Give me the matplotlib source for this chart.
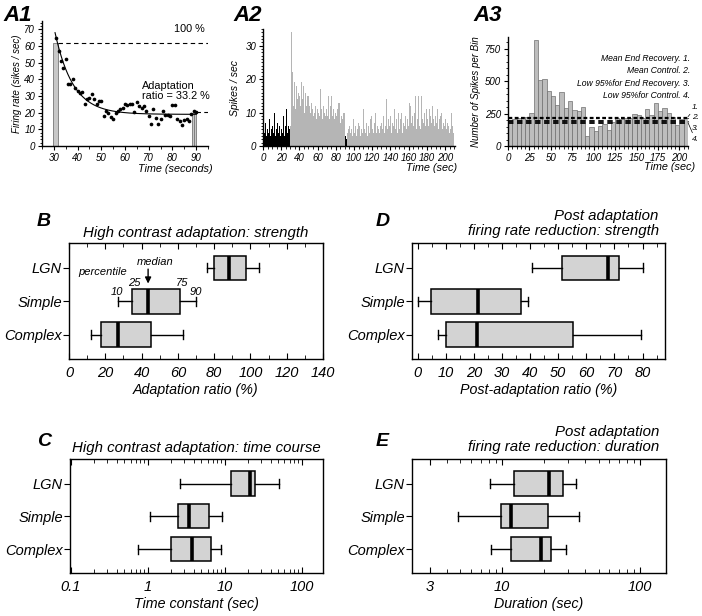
import numpy as np
import matplotlib
matplotlib.use('Agg')
import matplotlib.pyplot as plt
from matplotlib.ticker import MultipleLocator, LogLocator, NullFormatter

plt.rcParams['font.family'] = ['Liberation Sans', 'DejaVu Sans']
plt.rcParams['font.style'] = 'italic'
plt.rcParams['axes.linewidth'] = 1.0

# ---------------- data ----------------
# A1: firing rate during adaptation (1 point per second)
a1_t = np.arange(31, 91)
a1_rate = [65, 57, 51, 47, 52, 37, 37.5, 40, 35, 33,
           32, 32.5, 25, 28, 29, 31.5, 28, 25, 27, 27,
           18, 21, 20, 17.5, 16.5, 20, 21, 22, 23, 25,
           24.5, 25.5, 25, 20.5, 26.5, 24, 23, 24, 21, 18,
           13.5, 22.5, 17, 13.5, 16.5, 21, 18.5, 18.5, 18, 24.5,
           24.5, 16.5, 15, 12.5, 15.5, 16, 15, 19, 21, 20.5]
a1_bar_t = [29.8, 88.4, 89.2]
a1_bar_w = [2.0, 0.8, 0.8]
a1_bar_h = [62, 20, 21]
fit_t0, fit_amp, fit_tau, fit_base = 30.5, 49.0, 7.6, 19.0
a1_full = 62
a1_end = 20.5

# A2: spike rate per 1-s bin, 0-210 s
a2_rate = [8, 4, 7, 3, 5, 6, 4, 8, 3, 5,
           6, 4, 10, 3, 5, 7, 12, 4, 6, 3,
           5, 4, 9, 3, 6, 11, 4, 11, 6, 5,
           6, 34, 22, 12, 19, 11, 18, 14, 10, 16,
           15, 12, 19, 14, 18, 10, 16, 12, 15, 11,
           15, 12, 10, 13, 11, 9, 10, 12, 8, 11,
           10, 12, 9, 17, 11, 8, 12, 10, 9, 11,
           9, 15, 10, 8, 12, 15, 9, 11, 8, 10,
           9, 11, 13, 8, 13, 7, 9, 8, 10, 10,
           3, 2, 4, 5, 3, 6, 4, 5, 3, 8,
           4, 6, 3, 5, 7, 4, 6, 3, 5, 4,
           11, 5, 4, 7, 3, 6, 5, 4, 8, 9,
           5, 4, 7, 10, 4, 6, 5, 11, 4, 6,
           7, 5, 9, 4, 6, 14, 5, 8, 4, 6,
           9, 4, 7, 6, 11, 5, 8, 4, 10, 6,
           5, 8, 10, 4, 7, 6, 9, 5, 8, 6,
           13, 5, 12, 7, 9, 6, 10, 15, 5, 8,
           15, 6, 9, 5, 15, 8, 7, 10, 6, 11,
           8, 6, 11, 5, 9, 7, 12, 8, 6, 9,
           7, 11, 5, 8, 6, 9, 10, 5, 7, 6,
           8, 5, 7, 6, 4, 8, 5, 10, 6, 4]
a2_black = [(0, 30), (90, 92)]

# A3: spikes per 5-s bin
a3_counts = [196, 206, 212, 227, 227, 253, 815, 510, 520, 421,
             389, 319, 418, 290, 347, 278, 270, 298, 80, 145,
             118, 155, 167, 125, 185, 218, 208, 213, 218, 244,
             239, 218, 285, 239, 329, 270, 290, 257, 226, 165,
             206, 213]
a3_levels = [226, 212, 190, 180]
a3_names = ['Mean End Recovery. 1.', 'Mean Control. 2.',
            'Low 95%for End Recovery. 3.', 'Low 95%for Control. 4.']

# B-E: box plot summaries (10, 25, 50, 75, 90 percentiles)
cells = ['LGN', 'Simple', 'Complex']
b_stats = [[76, 80, 88, 97.4, 104.7], [27, 34.7, 43.7, 61.4, 69.8], [12, 17.6, 26.8, 45.4, 62.8]]
c_stats = [[2.67, 12.1, 21.2, 24.9, 51], [1.07, 2.51, 3.46, 6.25, 9.3], [0.76, 2.04, 3.79, 6.63, 9.05]]
d_stats = [[40.6, 51.5, 67.8, 71.8, 80.2], [0, 4.9, 21.4, 36.9, 39.4], [7.4, 10.2, 21.1, 55.3, 79.4]]
e_stats = [[8.24, 12.2, 22.0, 27.5, 34.3], [4.78, 9.78, 11.7, 21.7, 36.2], [8.37, 11.7, 19.2, 22.6, 29.2]]

W, H = 702, 616
fig = plt.figure(figsize=(W / 100, H / 100), dpi=100)


def px_axes(l, t, r, b):
    return fig.add_axes([l / W, 1 - b / H, (r - l) / W, (b - t) / H])


def small_axes(ax):
    for s in ['top', 'right']:
        ax.spines[s].set_visible(False)
    ax.tick_params(which='major', direction='out', length=3, labelsize=7, pad=2)
    ax.tick_params(which='minor', direction='out', length=1.8)


# ---------------- A1 ----------------
ax = px_axes(42, 21, 208, 146)
small_axes(ax)
ax.bar(a1_bar_t, a1_bar_h, width=a1_bar_w, align='edge', color='#c8c8c8', edgecolor='#777777', lw=0.6)
ax.scatter(a1_t, a1_rate, s=7, color='black', zorder=3, lw=0)
tt = np.linspace(fit_t0, 90, 200)
ax.plot(tt, fit_base + fit_amp * np.exp(-(tt - fit_t0) / fit_tau), color='black', lw=0.8)
ax.plot([31.8, 95], [a1_full, a1_full], ls=(0, (4, 3)), color='black', lw=0.8)
ax.plot([90, 95], [a1_end, a1_end], ls=(0, (4, 3)), color='black', lw=0.8)
ax.set_xlim(25, 95)
ax.set_ylim(0, 75)
ax.xaxis.set_major_locator(MultipleLocator(10))
ax.xaxis.set_minor_locator(MultipleLocator(5))
ax.yaxis.set_major_locator(MultipleLocator(10))
ax.yaxis.set_minor_locator(MultipleLocator(2))
ax.set_ylabel('Firing rate (sikes / sec)', fontsize=7, labelpad=2)
ax.text(1.03, -0.18, 'Time (seconds)', transform=ax.transAxes, ha='right', va='center', fontsize=7.8)
ax.text(80.5, 70, '100 %', fontsize=7.8, va='center', style='normal')
ax.text(67, 33, 'Adaptation\nratio = 33.2 %', fontsize=7.8, va='center', style='normal', linespacing=1.1)

# ---------------- A2 ----------------
ax = px_axes(263, 29, 455, 146)
small_axes(ax)
edges = np.arange(len(a2_rate))
cols = ['black' if any(lo <= e < hi for lo, hi in a2_black) else '#b5b5b5' for e in edges]
ax.bar(edges, a2_rate, width=1.0, align='edge', color=cols, lw=0)
ax.set_xlim(0, 211)
ax.set_ylim(0, 35)
ax.xaxis.set_major_locator(MultipleLocator(20))
ax.xaxis.set_minor_locator(MultipleLocator(5))
ax.yaxis.set_major_locator(MultipleLocator(10))
ax.yaxis.set_minor_locator(MultipleLocator(1))
ax.set_ylabel('Spikes / sec', fontsize=7.5, labelpad=4)
ax.text(1.01, -0.19, 'Time (sec)', transform=ax.transAxes, ha='right', va='center', fontsize=7.8)

# ---------------- A3 ----------------
ax = px_axes(508, 37, 688, 146)
small_axes(ax)
x3 = np.arange(len(a3_counts)) * 5
ax.bar(x3, a3_counts, width=5, align='edge', color='#bdbdbd', edgecolor='#6f6f6f', lw=0.5)
for i, lev in enumerate(a3_levels):
    ax.axhline(lev, color='black', lw=0.9 if i < 2 else 1.3, ls=(0, (3, 2)))
ax.set_xlim(0, 210)
ax.set_ylim(0, 840)
ax.xaxis.set_major_locator(MultipleLocator(25))
ax.xaxis.set_minor_locator(MultipleLocator(5))
ax.yaxis.set_major_locator(MultipleLocator(250))
ax.yaxis.set_minor_locator(MultipleLocator(50))
ax.set_ylabel('Number of Spikes per Bin', fontsize=7, labelpad=3)
ax.text(1.04, -0.19, 'Time (sec)', transform=ax.transAxes, ha='right', va='center', fontsize=7.8)
for i, name in enumerate(a3_names):
    ax.text(1.01, 0.807 - i * 0.116, name, transform=ax.transAxes, ha='right', va='center', fontsize=6.2)
lab_y = [0.349, 0.257, 0.165, 0.064]
for i, lev in enumerate(a3_levels):
    ax.annotate('%d.' % (i + 1), xy=(210, lev), xycoords='data', xytext=(1.02, lab_y[i]),
                textcoords='axes fraction', fontsize=6, va='center', annotation_clip=False,
                arrowprops=dict(arrowstyle='-', lw=0.5, shrinkA=0, shrinkB=0))


# ---------------- B-E ----------------
def box_panel(ax, vals):
    stats = [dict(whislo=v[0], q1=v[1], med=v[2], q3=v[3], whishi=v[4], label=c)
             for v, c in zip(vals, cells)]
    ax.bxp(stats, positions=[3, 2, 1], widths=0.74, orientation='horizontal',
           patch_artist=True, showfliers=False, capwidths=0.27,
           boxprops=dict(facecolor='#d3d3d3', edgecolor='black', lw=1.1),
           medianprops=dict(color='black', lw=2.6, solid_capstyle='butt'),
           whiskerprops=dict(color='black', lw=1.0),
           capprops=dict(color='black', lw=1.0))
    ax.set_ylim(0.27, 3.75)
    ax.tick_params(axis='y', direction='out', length=4, labelsize=10.5, pad=1)
    ax.tick_params(axis='x', which='both', direction='in', top=True, bottom=True,
                   labelsize=10.5, pad=5)
    ax.tick_params(axis='x', which='major', length=4)
    ax.tick_params(axis='x', which='minor', length=3)


ax = px_axes(69, 243, 323, 359)
box_panel(ax, b_stats)
ax.set_xlim(0, 140)
ax.xaxis.set_major_locator(MultipleLocator(20))
ax.xaxis.set_minor_locator(MultipleLocator(10))
ax.set_xlabel('Adaptation ratio (%)', fontsize=10.3, labelpad=2)
ax.set_title('High contrast adaptation: strength', fontsize=10.8, pad=4)
ax.text(18.7, 2.88, 'percentile', fontsize=8, ha='center', va='center')
ax.text(47.4, 3.18, 'median', fontsize=8, ha='center', va='center')
ax.annotate('', xy=(43.6, 2.45), xytext=(43.6, 3.05),
            arrowprops=dict(arrowstyle='-|>', color='black', lw=1, mutation_scale=9))
for s, x, y in [('25', 35.8, 2.55), ('75', 62.3, 2.55), ('10', 26.5, 2.27), ('90', 70, 2.27)]:
    ax.text(x, y, s, fontsize=8, ha='center', va='center')

ax = px_axes(412, 243, 665, 359)
box_panel(ax, d_stats)
ax.set_xlim(-2, 88)
ax.xaxis.set_major_locator(MultipleLocator(10))
ax.xaxis.set_minor_locator(MultipleLocator(5))
ax.set_xlabel('Post-adaptation ratio (%)', fontsize=10.3, labelpad=2)
ax.text(0.975, 1.04, 'Post adaptation\nfiring rate reduction: strength', transform=ax.transAxes,
        ha='right', va='bottom', fontsize=10.8, linespacing=1.1)

ax = px_axes(70, 459, 323, 573)
box_panel(ax, c_stats)
ax.set_xscale('log')
ax.set_xlim(0.098, 190)
ax.set_xticks([0.1, 1, 10, 100])
ax.set_xticklabels(['0.1', '1', '10', '100'])
ax.xaxis.set_minor_locator(LogLocator(base=10, subs=np.arange(2, 10)))
ax.xaxis.set_minor_formatter(NullFormatter())
ax.set_xlabel('Time constant (sec)', fontsize=10.3, labelpad=2)
ax.set_title('High contrast adaptation: time course', fontsize=10.8, pad=5)

ax = px_axes(412, 459, 666, 573)
box_panel(ax, e_stats)
ax.set_xscale('log')
ax.set_xlim(2.23, 154)
ax.xaxis.set_minor_locator(LogLocator(base=10, subs=np.arange(2, 10)))
ax.xaxis.set_minor_formatter(NullFormatter())
ax.set_xticks([3, 10, 100])
ax.set_xticklabels(['3', '10', '100'])
ax.set_xlabel('Duration (sec)', fontsize=10.3, labelpad=2)
ax.text(0.975, 1.04, 'Post adaptation\nfiring rate reduction: duration', transform=ax.transAxes,
        ha='right', va='bottom', fontsize=10.8, linespacing=1.1)

# panel letters
for s, x, y, fs in [('A1', 3, 21, 16), ('A2', 233, 21, 16), ('A3', 473, 21, 16),
                    ('B', 37, 226, 14), ('D', 376, 226, 14), ('C', 37, 446, 14), ('E', 376, 446, 14)]:
    fig.text(x / W, 1 - y / H, s, fontsize=fs, fontweight='bold', style='italic', va='baseline')

fig.savefig('out.png', dpi=100)
